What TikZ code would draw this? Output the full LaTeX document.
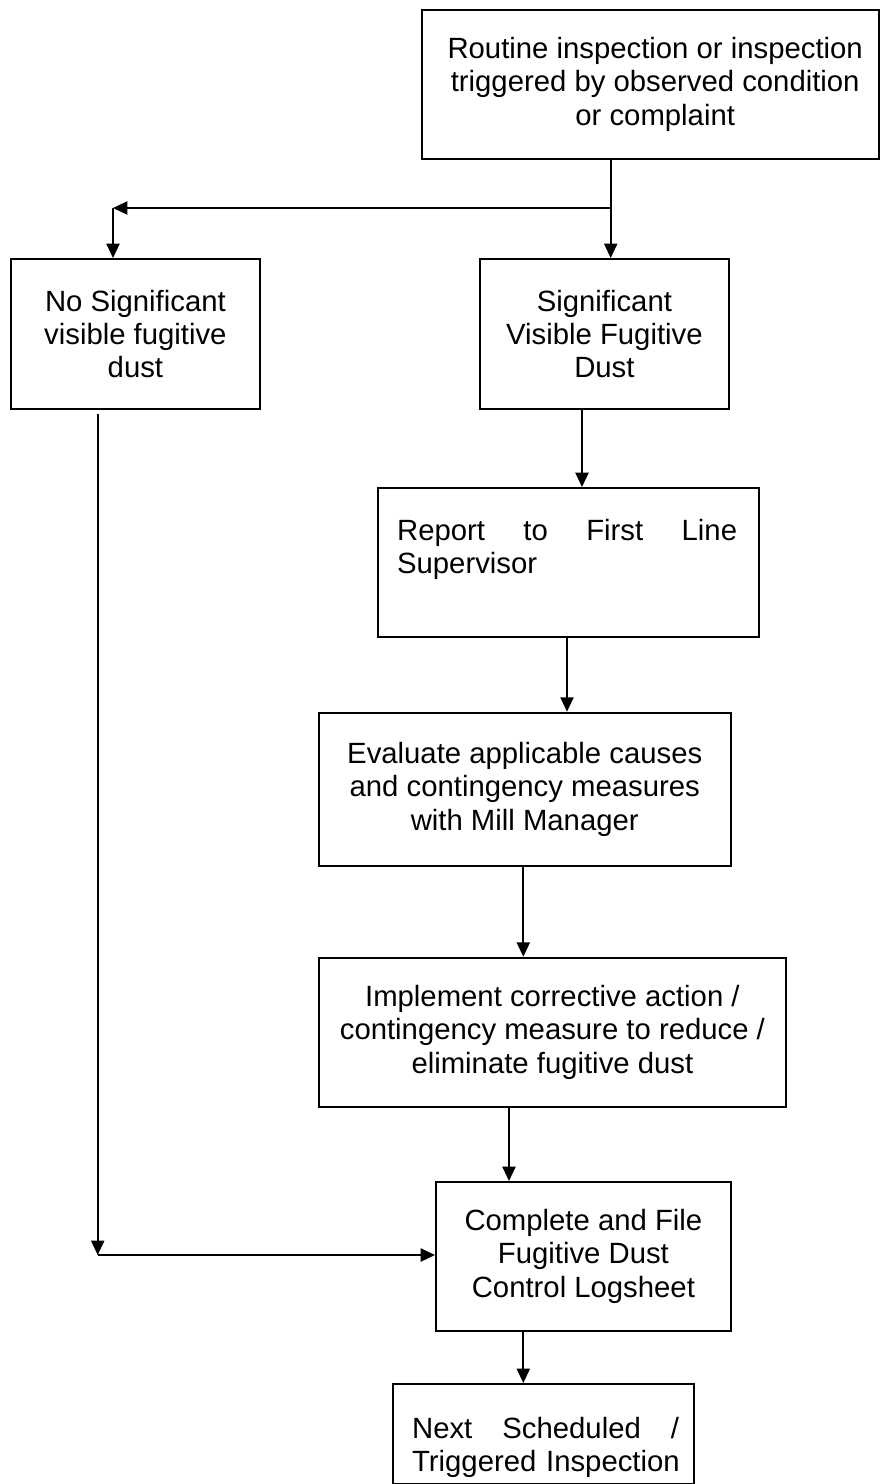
\documentclass[tikz,border=0pt]{standalone}
\usepackage{fontspec}
\setmainfont{Liberation Sans}
\usetikzlibrary{arrows.meta}
\begin{document}
\begin{tikzpicture}[x=0.5pt,y=-0.5pt,
  box/.style={draw, line width=0.9pt, inner sep=0pt, anchor=north west, align=center,
    font=\fontsize{14.65pt}{16.6pt}\selectfont},
  txt/.style={inner sep=0pt, anchor=base west, align=left,
    font=\fontsize{14.65pt}{16.6pt}\selectfont},
  conn/.style={line width=0.85pt},
  arr/.style={conn, -{Triangle[length=7.2pt,width=6.6pt]}}]
\useasboundingbox (0,0) rectangle (879,1484);

% boxes
\node[box, minimum width=228.6pt, minimum height=74.35pt] (top) at (420.7,9)
  {\hspace*{5pt}Routine inspection or inspection\\\hspace*{5pt}triggered by observed condition\\\hspace*{5pt}or complaint};
\node[box, minimum width=124.5pt, minimum height=75pt] (nosig) at (10,258)
  {No Significant\\visible fugitive\\dust};
\node[box, minimum width=124.5pt, minimum height=75pt] (sig) at (479,258)
  {Significant\\Visible Fugitive\\Dust};
\node[box, minimum width=190.5pt, minimum height=74.5pt] (report) at (376.7,487) {};
\node[txt, text width=172pt] (reporttext) at (396.7,540.7)
  {\hbox to 170pt{Report\hfill to\hfill First\hfill Line}\\Supervisor};
\node[box, minimum width=206.15pt, minimum height=76.65pt] (eval) at (317.7,711.7)
  {Evaluate applicable causes\\and contingency measures\\with Mill Manager};
\node[box, minimum width=233.5pt, minimum height=74.65pt] (impl) at (318,956.7)
  {Implement corrective action /\\contingency measure to reduce /\\eliminate fugitive dust};
\node[box, minimum width=147.5pt, minimum height=74.5pt] (complete) at (435,1181)
  {Complete and File\\Fugitive Dust\\Control Logsheet};
\node[box, minimum width=150.65pt, minimum height=50pt] (next) at (391.7,1383) {};
\node[txt, text width=136pt] (nexttext) at (411.7,1438)
  {\hbox to 133.5pt{Next\hfill Scheduled\hfill /}\\Triggered Inspection};

% connector points
\coordinate (split) at (610.7,208);
\coordinate (leftc) at (113,208);
\coordinate (c1) at (582,0);
\coordinate (c2) at (567,0);
\coordinate (c3) at (523.3,0);
\coordinate (c4) at (509,0);
\coordinate (c5) at (523.3,0);
\coordinate (lx) at (97.7,1255);

% connectors
\draw[conn] (top.south -| split) -- (split);
\draw[arr] (split) -- (sig.north -| split);
\draw[arr] (split) -- (leftc);
\draw[arr] (leftc) -- (nosig.north -| leftc);
\draw[arr] (sig.south -| c1) -- (report.north -| c1);
\draw[arr] (report.south -| c2) -- (eval.north -| c2);
\draw[arr] (eval.south -| c3) -- (impl.north -| c3);
\draw[arr] (impl.south -| c4) -- (complete.north -| c4);
\draw[arr] (complete.south -| c5) -- (next.north -| c5);
\draw[arr] ([yshift=-2pt]nosig.south -| lx) -- (lx);
\draw[arr] (lx) -- (complete.west |- lx);
\end{tikzpicture}
\end{document}
